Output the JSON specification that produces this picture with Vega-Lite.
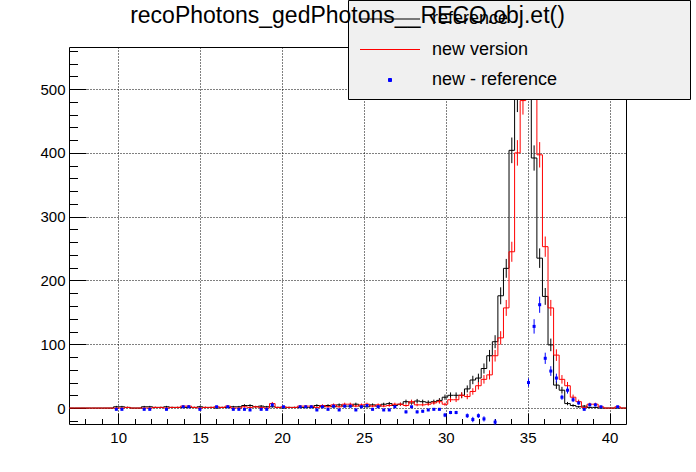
{
  "$schema": "https://vega.github.io/schema/vega-lite/v6.json",
  "width": 557,
  "height": 377,
  "autosize": {"type": "none"},
  "padding": {"left": 69, "top": 47, "right": 70, "bottom": 48},
  "background": "white",
  "title": {"text": "recoPhotons_gedPhotons__RECO.obj.et()", "frame": "group", "anchor": "middle", "orient": "top", "fontSize": 23, "font": "Liberation Sans", "fontWeight": "normal", "color": "black", "baseline": "alphabetic", "offset": -46},
  "config": {
    "view": {"stroke": "black", "strokeWidth": 1},
    "font": "Liberation Sans",
    "axis": {"labelFont": "Liberation Sans", "labelColor": "black", "labelFontSize": 15, "tickColor": "black", "tickWidth": 1, "domain": false, "gridColor": "black", "gridDash": [1, 2], "gridOpacity": 1, "gridWidth": 1, "labelFlush": false, "labelOverlap": false}
  },
  "data": {"values": [
    {"x0": 7.00, "x1": 7.34, "c": 7.17, "ref": 0, "refErr": 0, "newver": 0, "newErr": 0},
    {"x0": 7.34, "x1": 7.68, "c": 7.51, "ref": 0, "refErr": 0, "newver": 0, "newErr": 0},
    {"x0": 7.68, "x1": 8.02, "c": 7.85, "ref": 0, "refErr": 0, "newver": 0, "newErr": 0},
    {"x0": 8.02, "x1": 8.36, "c": 8.19, "ref": 0, "refErr": 0, "newver": 0, "newErr": 0},
    {"x0": 8.36, "x1": 8.70, "c": 8.53, "ref": 0, "refErr": 0, "newver": 0, "newErr": 0},
    {"x0": 8.70, "x1": 9.04, "c": 8.87, "ref": 0, "refErr": 0, "newver": 0, "newErr": 0},
    {"x0": 9.04, "x1": 9.38, "c": 9.21, "ref": 0, "refErr": 0, "newver": 0, "newErr": 0},
    {"x0": 9.38, "x1": 9.72, "c": 9.55, "ref": 0, "refErr": 0, "newver": 0, "newErr": 0},
    {"x0": 9.72, "x1": 10.06, "c": 9.89, "ref": 2, "refErr": 1.4, "newver": 0, "newErr": 0, "diff": -2, "diffErr": 1.4},
    {"x0": 10.06, "x1": 10.40, "c": 10.23, "ref": 2, "refErr": 1.4, "newver": 0, "newErr": 0, "diff": -2, "diffErr": 1.4},
    {"x0": 10.40, "x1": 10.74, "c": 10.57, "ref": 1, "refErr": 1, "newver": 1, "newErr": 1},
    {"x0": 10.74, "x1": 11.08, "c": 10.91, "ref": 0, "refErr": 0, "newver": 0, "newErr": 0},
    {"x0": 11.08, "x1": 11.42, "c": 11.25, "ref": 0, "refErr": 0, "newver": 0, "newErr": 0},
    {"x0": 11.42, "x1": 11.76, "c": 11.59, "ref": 2, "refErr": 1.4, "newver": 0, "newErr": 0, "diff": -2, "diffErr": 1.4},
    {"x0": 11.76, "x1": 12.10, "c": 11.93, "ref": 2, "refErr": 1.4, "newver": 0, "newErr": 0, "diff": -2, "diffErr": 1.4},
    {"x0": 12.10, "x1": 12.44, "c": 12.27, "ref": 1, "refErr": 1, "newver": 1, "newErr": 1},
    {"x0": 12.44, "x1": 12.78, "c": 12.61, "ref": 1, "refErr": 1, "newver": 1, "newErr": 1},
    {"x0": 12.78, "x1": 13.12, "c": 12.95, "ref": 2, "refErr": 1.4, "newver": 0, "newErr": 0, "diff": -2, "diffErr": 1.4},
    {"x0": 13.12, "x1": 13.46, "c": 13.29, "ref": 1, "refErr": 1, "newver": 1, "newErr": 1},
    {"x0": 13.46, "x1": 13.80, "c": 13.63, "ref": 1, "refErr": 1, "newver": 1, "newErr": 1},
    {"x0": 13.80, "x1": 14.14, "c": 13.97, "ref": 1, "refErr": 1, "newver": 3, "newErr": 1.7, "diff": 2, "diffErr": 1.4},
    {"x0": 14.14, "x1": 14.48, "c": 14.31, "ref": 1, "refErr": 1, "newver": 3, "newErr": 1.7, "diff": 2, "diffErr": 1.4},
    {"x0": 14.48, "x1": 14.82, "c": 14.65, "ref": 1, "refErr": 1, "newver": 1, "newErr": 1},
    {"x0": 14.82, "x1": 15.16, "c": 14.99, "ref": 2, "refErr": 1.4, "newver": 0, "newErr": 0, "diff": -2, "diffErr": 1.4},
    {"x0": 15.16, "x1": 15.50, "c": 15.33, "ref": 1, "refErr": 1, "newver": 1, "newErr": 1},
    {"x0": 15.50, "x1": 15.84, "c": 15.67, "ref": 1, "refErr": 1, "newver": 1, "newErr": 1},
    {"x0": 15.84, "x1": 16.18, "c": 16.01, "ref": 0, "refErr": 0, "newver": 2, "newErr": 1.4, "diff": 2, "diffErr": 1.4},
    {"x0": 16.18, "x1": 16.52, "c": 16.35, "ref": 1, "refErr": 1, "newver": 1, "newErr": 1},
    {"x0": 16.52, "x1": 16.86, "c": 16.69, "ref": 1, "refErr": 1, "newver": 3, "newErr": 1.7, "diff": 2, "diffErr": 1.4},
    {"x0": 16.86, "x1": 17.20, "c": 17.03, "ref": 2, "refErr": 1.4, "newver": 0, "newErr": 0, "diff": -2, "diffErr": 1.4},
    {"x0": 17.20, "x1": 17.54, "c": 17.37, "ref": 2, "refErr": 1.4, "newver": 0, "newErr": 0, "diff": -2, "diffErr": 1.4},
    {"x0": 17.54, "x1": 17.88, "c": 17.71, "ref": 4, "refErr": 2, "newver": 2, "newErr": 1.4, "diff": -2, "diffErr": 1.4},
    {"x0": 17.88, "x1": 18.22, "c": 18.05, "ref": 4, "refErr": 2, "newver": 1, "newErr": 1, "diff": -3, "diffErr": 1.7},
    {"x0": 18.22, "x1": 18.56, "c": 18.39, "ref": 2, "refErr": 1.4, "newver": 2, "newErr": 1.4},
    {"x0": 18.56, "x1": 18.90, "c": 18.73, "ref": 3, "refErr": 1.7, "newver": 1, "newErr": 1, "diff": -2, "diffErr": 1.4},
    {"x0": 18.90, "x1": 19.24, "c": 19.07, "ref": 2, "refErr": 1.4, "newver": 0, "newErr": 0, "diff": -2, "diffErr": 1.4},
    {"x0": 19.24, "x1": 19.58, "c": 19.41, "ref": 2, "refErr": 1.4, "newver": 7, "newErr": 2.6, "diff": 5, "diffErr": 2.2},
    {"x0": 19.58, "x1": 19.92, "c": 19.75, "ref": 1, "refErr": 1, "newver": 1, "newErr": 1},
    {"x0": 19.92, "x1": 20.26, "c": 20.09, "ref": 0, "refErr": 0, "newver": 2, "newErr": 1.4, "diff": 2, "diffErr": 1.4},
    {"x0": 20.26, "x1": 20.60, "c": 20.43, "ref": 1, "refErr": 1, "newver": 1, "newErr": 1},
    {"x0": 20.60, "x1": 20.94, "c": 20.77, "ref": 1, "refErr": 1, "newver": 1, "newErr": 1},
    {"x0": 20.94, "x1": 21.28, "c": 21.11, "ref": 1, "refErr": 1, "newver": 3, "newErr": 1.7, "diff": 2, "diffErr": 1.4},
    {"x0": 21.28, "x1": 21.62, "c": 21.45, "ref": 1, "refErr": 1, "newver": 3, "newErr": 1.7, "diff": 2, "diffErr": 1.4},
    {"x0": 21.62, "x1": 21.96, "c": 21.79, "ref": 1, "refErr": 1, "newver": 3, "newErr": 1.7, "diff": 2, "diffErr": 1.4},
    {"x0": 21.96, "x1": 22.30, "c": 22.13, "ref": 4, "refErr": 2, "newver": 1, "newErr": 1, "diff": -3, "diffErr": 1.7},
    {"x0": 22.30, "x1": 22.64, "c": 22.47, "ref": 2, "refErr": 1.4, "newver": 4, "newErr": 2, "diff": 2, "diffErr": 1.4},
    {"x0": 22.64, "x1": 22.98, "c": 22.81, "ref": 4, "refErr": 2, "newver": 2, "newErr": 1.4, "diff": -2, "diffErr": 1.4},
    {"x0": 22.98, "x1": 23.32, "c": 23.15, "ref": 2, "refErr": 1.4, "newver": 5, "newErr": 2.2, "diff": 3, "diffErr": 1.7},
    {"x0": 23.32, "x1": 23.66, "c": 23.49, "ref": 5, "refErr": 2.2, "newver": 2, "newErr": 1.4, "diff": -3, "diffErr": 1.7},
    {"x0": 23.66, "x1": 24.00, "c": 23.83, "ref": 3, "refErr": 1.7, "newver": 6, "newErr": 2.4, "diff": 3, "diffErr": 1.7},
    {"x0": 24.00, "x1": 24.34, "c": 24.17, "ref": 3, "refErr": 1.7, "newver": 6, "newErr": 2.4, "diff": 3, "diffErr": 1.7},
    {"x0": 24.34, "x1": 24.68, "c": 24.51, "ref": 6, "refErr": 2.4, "newver": 3, "newErr": 1.7, "diff": -3, "diffErr": 1.7},
    {"x0": 24.68, "x1": 25.02, "c": 24.85, "ref": 3, "refErr": 1.7, "newver": 5, "newErr": 2.2, "diff": 2, "diffErr": 1.4},
    {"x0": 25.02, "x1": 25.36, "c": 25.19, "ref": 2, "refErr": 1.4, "newver": 6, "newErr": 2.4, "diff": 4, "diffErr": 2},
    {"x0": 25.36, "x1": 25.70, "c": 25.53, "ref": 5, "refErr": 2.2, "newver": 3, "newErr": 1.7, "diff": -2, "diffErr": 1.4},
    {"x0": 25.70, "x1": 26.04, "c": 25.87, "ref": 3, "refErr": 1.7, "newver": 5, "newErr": 2.2, "diff": 2, "diffErr": 1.4},
    {"x0": 26.04, "x1": 26.38, "c": 26.21, "ref": 6, "refErr": 2.4, "newver": 3, "newErr": 1.7, "diff": -3, "diffErr": 1.7},
    {"x0": 26.38, "x1": 26.72, "c": 26.55, "ref": 7, "refErr": 2.6, "newver": 4, "newErr": 2, "diff": -3, "diffErr": 1.7},
    {"x0": 26.72, "x1": 27.06, "c": 26.89, "ref": 4, "refErr": 2, "newver": 6, "newErr": 2.4, "diff": 2, "diffErr": 1.4},
    {"x0": 27.06, "x1": 27.40, "c": 27.23, "ref": 6, "refErr": 2.4, "newver": 6, "newErr": 2.4},
    {"x0": 27.40, "x1": 27.74, "c": 27.57, "ref": 10, "refErr": 3.2, "newver": 4, "newErr": 2, "diff": -6, "diffErr": 2.4},
    {"x0": 27.74, "x1": 28.08, "c": 27.91, "ref": 8, "refErr": 2.8, "newver": 10, "newErr": 3.2, "diff": 2, "diffErr": 1.4},
    {"x0": 28.08, "x1": 28.42, "c": 28.25, "ref": 11, "refErr": 3.3, "newver": 5, "newErr": 2.2, "diff": -6, "diffErr": 2.4},
    {"x0": 28.42, "x1": 28.76, "c": 28.59, "ref": 10, "refErr": 3.2, "newver": 5, "newErr": 2.2, "diff": -5, "diffErr": 2.2},
    {"x0": 28.76, "x1": 29.10, "c": 28.93, "ref": 9, "refErr": 3, "newver": 6, "newErr": 2.4, "diff": -3, "diffErr": 1.7},
    {"x0": 29.10, "x1": 29.44, "c": 29.27, "ref": 10, "refErr": 3.2, "newver": 8, "newErr": 2.8, "diff": -2, "diffErr": 1.4},
    {"x0": 29.44, "x1": 29.78, "c": 29.61, "ref": 12, "refErr": 3.5, "newver": 10, "newErr": 3.2, "diff": -2, "diffErr": 1.4},
    {"x0": 29.78, "x1": 30.12, "c": 29.95, "ref": 17, "refErr": 4.1, "newver": 6, "newErr": 2.4, "diff": -11, "diffErr": 3.3},
    {"x0": 30.12, "x1": 30.46, "c": 30.29, "ref": 20, "refErr": 4.5, "newver": 13, "newErr": 3.6, "diff": -7, "diffErr": 2.6},
    {"x0": 30.46, "x1": 30.80, "c": 30.63, "ref": 20, "refErr": 4.5, "newver": 13, "newErr": 3.6, "diff": -7, "diffErr": 2.6},
    {"x0": 30.80, "x1": 31.14, "c": 30.97, "ref": 20, "refErr": 4.5, "newver": 20, "newErr": 4.5},
    {"x0": 31.14, "x1": 31.48, "c": 31.31, "ref": 30, "refErr": 5.5, "newver": 18, "newErr": 4.2, "diff": -12, "diffErr": 3.5},
    {"x0": 31.48, "x1": 31.82, "c": 31.65, "ref": 44, "refErr": 6.6, "newver": 26, "newErr": 5.1, "diff": -18, "diffErr": 4.2},
    {"x0": 31.82, "x1": 32.16, "c": 31.99, "ref": 47, "refErr": 6.9, "newver": 35, "newErr": 5.9, "diff": -12, "diffErr": 3.5},
    {"x0": 32.16, "x1": 32.50, "c": 32.33, "ref": 62, "refErr": 7.9, "newver": 45, "newErr": 6.7, "diff": -17, "diffErr": 4.1},
    {"x0": 32.50, "x1": 32.84, "c": 32.67, "ref": 82, "refErr": 9.1, "newver": 52, "newErr": 7.2, "diff": -30, "diffErr": 5.5},
    {"x0": 32.84, "x1": 33.18, "c": 33.01, "ref": 104, "refErr": 10.2, "newver": 82, "newErr": 9.1, "diff": -22, "diffErr": 4.7},
    {"x0": 33.18, "x1": 33.52, "c": 33.35, "ref": 176, "refErr": 13.3, "newver": 110, "newErr": 10.5, "diff": -66, "diffErr": 8.1},
    {"x0": 33.52, "x1": 33.86, "c": 33.69, "ref": 219, "refErr": 14.8, "newver": 157, "newErr": 12.5, "diff": -62, "diffErr": 7.9},
    {"x0": 33.86, "x1": 34.20, "c": 34.03, "ref": 404, "refErr": 20.1, "newver": 245, "newErr": 15.7, "diff": -159, "diffErr": 12.6},
    {"x0": 34.20, "x1": 34.54, "c": 34.37, "ref": 486, "refErr": 22, "newver": 400, "newErr": 20, "diff": -86, "diffErr": 9.3},
    {"x0": 34.54, "x1": 34.88, "c": 34.71, "ref": 530, "refErr": 23, "newver": 482, "newErr": 22, "diff": -48, "diffErr": 6.9},
    {"x0": 34.88, "x1": 35.22, "c": 35.05, "ref": 515, "refErr": 22.7, "newver": 555, "newErr": 23.6, "diff": 40, "diffErr": 6.3},
    {"x0": 35.22, "x1": 35.56, "c": 35.39, "ref": 392, "refErr": 19.8, "newver": 520, "newErr": 22.8, "diff": 128, "diffErr": 11.3},
    {"x0": 35.56, "x1": 35.90, "c": 35.73, "ref": 235, "refErr": 15.3, "newver": 397, "newErr": 19.9, "diff": 162, "diffErr": 12.7},
    {"x0": 35.90, "x1": 36.24, "c": 36.07, "ref": 175, "refErr": 13.2, "newver": 253, "newErr": 15.9, "diff": 78, "diffErr": 8.8},
    {"x0": 36.24, "x1": 36.58, "c": 36.41, "ref": 99, "refErr": 9.9, "newver": 157, "newErr": 12.5, "diff": 58, "diffErr": 7.6},
    {"x0": 36.58, "x1": 36.92, "c": 36.75, "ref": 36, "refErr": 6, "newver": 83, "newErr": 9.1, "diff": 47, "diffErr": 6.9},
    {"x0": 36.92, "x1": 37.26, "c": 37.09, "ref": 28, "refErr": 5.3, "newver": 45, "newErr": 6.7, "diff": 17, "diffErr": 4.1},
    {"x0": 37.26, "x1": 37.60, "c": 37.43, "ref": 7, "refErr": 2.6, "newver": 35, "newErr": 5.9, "diff": 28, "diffErr": 5.3},
    {"x0": 37.60, "x1": 37.94, "c": 37.77, "ref": 4, "refErr": 2, "newver": 17, "newErr": 4.1, "diff": 13, "diffErr": 3.6},
    {"x0": 37.94, "x1": 38.28, "c": 38.11, "ref": 2, "refErr": 1.4, "newver": 10, "newErr": 3.2, "diff": 8, "diffErr": 2.8},
    {"x0": 38.28, "x1": 38.62, "c": 38.45, "ref": 3, "refErr": 1.7, "newver": 1, "newErr": 1, "diff": -2, "diffErr": 1.4},
    {"x0": 38.62, "x1": 38.96, "c": 38.79, "ref": 1, "refErr": 1, "newver": 6, "newErr": 2.4, "diff": 5, "diffErr": 2.2},
    {"x0": 38.96, "x1": 39.30, "c": 39.13, "ref": 1, "refErr": 1, "newver": 6, "newErr": 2.4, "diff": 5, "diffErr": 2.2},
    {"x0": 39.30, "x1": 39.64, "c": 39.47, "ref": 0, "refErr": 0, "newver": 2, "newErr": 1.4, "diff": 2, "diffErr": 1.4},
    {"x0": 39.64, "x1": 39.98, "c": 39.81, "ref": 0, "refErr": 0, "newver": 0, "newErr": 0},
    {"x0": 39.98, "x1": 40.32, "c": 40.15, "ref": 0, "refErr": 0, "newver": 0, "newErr": 0},
    {"x0": 40.32, "x1": 40.66, "c": 40.49, "ref": 0, "refErr": 0, "newver": 2, "newErr": 1.4, "diff": 2, "diffErr": 1.4},
    {"x0": 40.66, "x1": 41.00, "c": 40.83, "ref": 0, "refErr": 0, "newver": 0, "newErr": 0}
  ]},
  "resolve": {"axis": {"x": "independent", "y": "independent"}},
  "layer": [
    {
      "transform": [{"fold": ["x0", "x1"], "as": ["edge", "x"]}],
      "mark": {"type": "line", "interpolate": "linear", "strokeWidth": 1, "clip": true},
      "encoding": {
        "x": {"field": "x", "type": "quantitative", "scale": {"domain": [7, 41], "nice": false, "zero": false},
              "axis": {"orient": "bottom", "values": [10, 15, 20, 25, 30, 35, 40], "grid": true, "tickSize": -11, "labelPadding": 17, "title": null, "domain": false}},
        "y": {"field": "ref", "type": "quantitative", "scale": {"domain": [-25, 566], "nice": false, "zero": false},
              "axis": {"orient": "left", "values": [0, 100, 200, 300, 400, 500], "grid": true, "tickSize": -17, "labelPadding": 21, "title": null, "domain": false}},
        "order": [{"field": "x", "type": "quantitative"}, {"field": "x0", "type": "quantitative"}],
        "color": {"datum": "reference",
                  "scale": {"domain": ["reference", "new version", "new - reference"], "range": ["black", "red", "blue"]},
                  "legend": {"orient": "none", "legendX": 279, "legendY": -47, "direction": "vertical",
                             "title": "\u00a0", "titleOrient": "right", "titleFontSize": 1, "titlePadding": 123,
                             "padding": 10, "fillColor": "#f0f0f0", "strokeColor": "black",
                             "labelFontSize": 18, "labelFont": "Liberation Sans", "labelColor": "black",
                             "labelOffset": 33, "symbolOffset": 23, "rowPadding": 12.5, "symbolSize": 36, "symbolStrokeWidth": 1,
                             "encode": {"symbols": {"update": {
                               "shape": {"signal": "datum.value === 'new - reference' ? 'square' : 'M-10,0H10'"},
                               "size": {"signal": "datum.value === 'new - reference' ? 9 : 36"},
                               "fill": {"signal": "datum.value === 'new - reference' ? 'blue' : 'transparent'"},
                               "stroke": {"signal": "datum.value === 'new - reference' ? 'transparent' : (datum.value === 'new version' ? 'red' : 'black')"},
                               "strokeWidth": {"value": 1}}}}}}
      }
    },
    {
      "mark": {"type": "errorbar", "color": "black", "thickness": 1},
      "encoding": {
        "x": {"field": "c", "type": "quantitative", "axis": null},
        "y": {"field": "ref", "type": "quantitative", "axis": null},
        "yError": {"field": "refErr"}
      }
    },
    {
      "transform": [{"fold": ["x0", "x1"], "as": ["edge", "x"]}],
      "mark": {"type": "line", "interpolate": "linear", "strokeWidth": 1, "clip": true},
      "encoding": {
        "x": {"field": "x", "type": "quantitative",
              "axis": {"orient": "bottom", "values": [8, 9, 11, 12, 13, 14, 16, 17, 18, 19, 21, 22, 23, 24, 26, 27, 28, 29, 31, 32, 33, 34, 36, 37, 38, 39], "grid": false, "labels": false, "tickSize": -5.5, "title": null, "domain": false}},
        "y": {"field": "newver", "type": "quantitative",
              "axis": {"orient": "left", "values": [-20, 20, 40, 60, 80, 120, 140, 160, 180, 220, 240, 260, 280, 320, 340, 360, 380, 420, 440, 460, 480, 520, 540, 560], "grid": false, "labels": false, "tickSize": -8.5, "title": null, "domain": false}},
        "order": [{"field": "x", "type": "quantitative"}, {"field": "x0", "type": "quantitative"}],
        "color": {"datum": "new version"}
      }
    },
    {
      "mark": {"type": "errorbar", "color": "red", "thickness": 1},
      "encoding": {
        "x": {"field": "c", "type": "quantitative", "axis": null},
        "y": {"field": "newver", "type": "quantitative", "axis": null},
        "yError": {"field": "newErr"}
      }
    },
    {
      "transform": [{"filter": "isValid(datum.diff) && datum.diff > -25"}],
      "mark": {"type": "errorbar", "color": "blue", "thickness": 1},
      "encoding": {
        "x": {"field": "c", "type": "quantitative", "axis": null},
        "y": {"field": "diff", "type": "quantitative", "axis": null},
        "yError": {"field": "diffErr"}
      }
    },
    {
      "mark": {"type": "point", "shape": "square", "filled": true, "size": 9, "opacity": 1, "clip": true},
      "encoding": {
        "x": {"field": "c", "type": "quantitative", "axis": null},
        "y": {"field": "diff", "type": "quantitative", "axis": null},
        "color": {"datum": "new - reference"}
      }
    }
  ]
}
